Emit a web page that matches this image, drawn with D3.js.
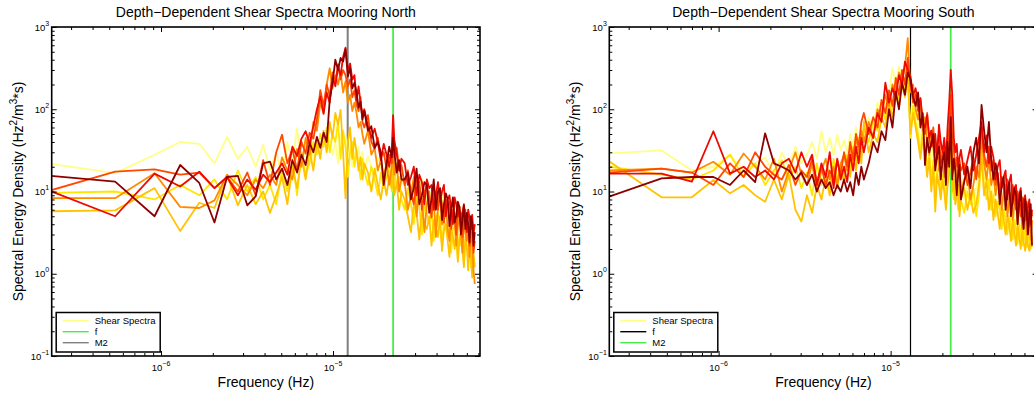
<!DOCTYPE html>
<html>
<head>
<meta charset="utf-8">
<script src="https://cdn.jsdelivr.net/npm/d3@7/dist/d3.min.js"></script>
<style>
html,body{margin:0;padding:0;background:#fff;}
svg{display:block;font-family:"Liberation Sans",Arial,Helvetica,sans-serif;}
</style>
</head>
<body>
<svg id="chart" width="1034" height="398"></svg>
<script>
// ---------------- DATA ----------------
const seriesColors = ['#ffff88', '#ffe600', '#ffc400', '#ff8c00', '#ff4800', '#ee0a00', '#8c0000'];

// Mooring North: frequency (micro-Hz)
const northFreqMicroHz = [
0.165,0.541,0.917,1.293,1.669,2.045,2.421,2.797,3.173,3.549,
3.925,4.301,4.677,5.053,5.429,5.805,6.181,6.557,6.933,7.309,
7.685,8.061,8.437,8.813,9.189,9.565,9.941,10.317,10.693,11.069,
11.445,11.821,12.197,12.573,12.949,13.325,13.701,14.077,14.453,14.829,
15.205,15.957,16.709,17.461,18.213,18.965,19.717,20.469,21.221,21.973,
22.349,22.725,23.477,24.229,24.981,26.10,27.23,28.37,29.49,30.61,
31.75,32.87,34.00,35.13,36.26,37.39,38.52,39.65,40.77,41.90,
43.03,44.16,45.29,46.41,47.54,48.67,49.80,50.93,52.05,53.18,
54.31,55.44,56.57,57.69,58.82,59.95,61.08,62.21,63.33,64.46,
65.59,66.72];

const northS1 = [
24,16.7,28,40,38,22,46,25,35,20, 37,18,30,15,40,22,59,20,35,45,
25,38,28,50,32,45,28,40,22,50, 35,45,25,38,20,30,
25,35,22,30,18,27,20,15,26,21,14,24,17,28,50,22,16,25,13,
12,16,9,13,8,11,14,6,9.5,7, 10,5,8,8.5,6,9,4,7,6,5,
7.5,3.5,6,4.5,5.5,3,6.5,3.5,4.8,3, 4.5,2.5,4,3,2,3.5,2.5];
const northS2 = [
9.5,10,8,12,9,14,8,18,10,15, 8,12,7,18,10,24,9,30,16,22,
40,28,50,35,60,30,50,40,70,25, 55,35,15,30,40,20,
32,22,14,25,18,12,20,14,9,17,11,15,20,10,42,18,12,15,8,
6,11,7,4,9,6.5,3,7,5.5,4, 6,2.5,4.8,5.5,3.5,2.2,4.5,3.6,2.8,4,
1.8,3.4,3.8,2.5,1.5,3,2.2,3.2,1.3,2.6, 2,1.7,2.4,1.2,2.2,1.5,1.3];
const northS3 = [
5.7,5.9,11,3.3,7.3,6.3,15.9,6.8,12,7, 10,5.5,9,15,7,20,11,26,14,32,
18,40,25,55,30,70,45,90,65,98, 30,8.3,40,60,25,45,
30,18,26,14,22,17,10,19,12,8,14,9,15,11,32,9,13,6,10,
8,5,3.2,7,5.5,2.6,6,4,3.5,5, 2.2,4.5,3.6,2.8,5,1.9,3.4,4,2.5,1.6,
3.5,2.8,2,3.8,1.4,2.6,3,1.9,1.2,2.8, 2.2,1.1,2.5,1.6,0.9,1.8,1.2];
const northS4 = [
8.3,8.3,16.7,6.5,6.3,7.8,16,12,9,14, 11,16,12,26,18,14,33,20,45,28,
70,55,120,90,200,315,180,260,200,280, 160,220,120,150,95,120,
90,60,70,50,38,55,28,34,18,24,15,22,12,20,50,16,22,10,14,
13,6,9,15,5,11,8,3.2,7,10, 6,8,2.8,6.5,9,4,5,7,3.5,2.5,
6,4.5,5.5,2.2,3.8,6,3,1.8,4.5,3.2, 2.5,4,1.6,3.2,2.4,1.1,0.75];
const northS5 = [
8.5,17.4,18.6,16,17,11,15,10,17,9, 24,12,30,49,22,33,18,40,29,52,
44,75,171,110,200,145,280,210,350,230, 300,260,190,230,140,170,
115,95,140,70,60,85,40,33,45,26,30,19,28,22,60,26,34,18,21,
12,18,10,7,15,13,6,10,12,8, 4.8,11,9,6,9.5,7,4.2,8,6.5,7.5,
3.5,6,5.2,3,7,4.8,5.5,2.8,4.5,6, 3.4,4,2.2,4.6,3.6,1.8,2.5];
const northS6 = [
13.2,5.0,16.5,11.5,17.4,11,15,9,14,10.5, 16,13,17,22,16,35,27,44,54,38,
62,100,142,88,160,120,240,190,330,260, 430,560,300,360,230,260,
130,190,120,85,100,62,45,58,40,24,38,28,20,32,85,42,28,18,25,
22,12,15,20,9,16,13,7,14,11, 12,6,9,13,7.5,10,12,5,8,9,
6,4,8.5,7,5,6.5,3.6,5.5,7,4.5, 3.2,6,4.8,3.5,5.2,3,4];
const northS7 = [
16.5,13.2,5.0,21,12.7,4.2,15,15.5,6.8,8.7, 22,23,14,19,12,24,17,28,21,39,
30,46,34,52,40,129,210,400,300,420, 380,540,250,320,180,210,
160,105,123,75,95,55,62,34,40,30,12,22,35,26,45,30,17,24,14,
14,17,8,11,19,7,9,13,12,5.5, 8,14,6,10,11,4.5,7,9.5,8,3.8,
6,8.5,4.2,5,7.5,6.5,3,4.5,6.8,3.5, 5.5,4,2.4,5,4.2,2.2,3.2];

// Mooring South: frequency (micro-Hz)
const southFreqMicroHz = [
0.233,0.466,0.699,0.932,1.165,1.398,1.631,1.864,2.097,2.330,
2.563,2.796,3.029,3.262,3.495,3.728,3.961,4.194,4.427,4.660,
4.893,5.126,5.359,5.592,5.825,6.058,6.291,6.524,6.757,6.990,
7.456,7.922,8.388,8.854,9.320,9.786,10.252,10.718,11.184,11.650,
12.116,12.582,13.048,13.514,13.980,14.446,14.912,15.378,15.844,16.310,
16.776,17.242,17.708,18.174,18.640,19.106,19.572,20.038,20.504,20.970,
21.436,21.902,22.368,22.834,23.300,23.766,24.232,24.698,25.164,25.630,
26.795,27.960,29.125,30.290,31.455,32.620,33.785,34.950,36.115,37.280,
38.445,39.610,40.775,41.940,43.105,44.270,45.435,46.600,47.765,48.930,
50.095,51.260,52.425,53.590,54.755,55.920,57.085,58.250,59.415,60.580,
61.745,62.910,64.075,65.240,66.405];

const southS1 = [
29,31.6,18,20,28,18,22,26,16,30, 20,35,22,28,40,25,54,30,45,28,
49,32,42,30,50,35,60,40,55,45, 80,60,120,90,200,150,315,200,330,250, 180,220,
60,130,90,70,40,65,45,30,40,22,35,18,24,30,15,22,18,10,16,25,45,
16,22,12,15,9,13,16,8,12,14, 7,11,16,35,14,20,10,13,8,11,
9,5.5,9,7,4.5,7.5,6,4,6.5,5, 3.5,5.5,4.2,3,5,3.6,2.8,4.3,3.2,2.6, 3.8,3];
const southS2 = [
20,16,14,18,28,15,22,12,18,24, 14,20,11,17,9,22,12,18,10,25,
14,20,16,28,19,35,24,45,30,60, 40,70,55,110,75,150,100,200,130,240, 170,300,
45,110,70,50,30,55,35,20,28,14,24,10,18,20,9,16,12,8,14,20,50,
12,8,15,10,6,11,8,5.5,10,7, 11,5,9,30,12,8,14,6,9,5,
7.5,6,3.5,6,4.5,3,5,3.8,2.6,4.5, 3.5,2.3,4,3,2.2,3.6,2.6,2.1,3.2,2.4, 2,2.9];
const southS3 = [
23,8.5,8.5,13.8,9.5,12,9,7.5,14,8, 16,6,4.3,9,5.5,12,8,15,9,18,
11,20,13,25,15,30,18,35,22,71, 30,50,40,80,60,120,80,150,110,200, 140,250,
50,90,60,40,25,45,30,15,25,10,20,5.7,16,12,8,14,10,6,12,16,40,
10,14,7,9,12,5,8,11,6,9, 5.5,7,12,25,9,14,6,10,4.5,8,
5.5,3.5,6.5,4.5,3,5,4,2.5,4.5,3.2, 2.2,3.8,2.8,2,3.4,2.4,1.9,3,2.2,1.9, 2.6,2.1];
const southS4 = [
18,19,17,23,16,29,20,14,25,10, 18,30,16,12,22,10,18,25,14,20,
12,22,28,18,35,24,45,30,55,40, 70,45,100,80,150,110,200,160,280,220, 330,730,
160,200,100,75,120,55,80,40,28,55,35,22,38,18,26,30,15,25,20,35,60,
25,18,24,12,16,20,10,14,18,8, 12,20,15,45,22,14,25,12,16,9,
14,11,6,10,12,5,8,9.5,4.5,7, 8,4,6.5,7,3.5,5.5,6,3,5,5.5, 2.6,4.5];
const southS5 = [
17,19,17,12,22,15,30,20,16,14, 21,12,18,15,25,13,20,12,18,14,
24,16,30,20,40,25,50,35,70,90, 50,80,60,130,90,170,110,240,150,300, 200,420,
200,120,150,95,130,70,50,90,42,35,60,30,38,50,22,28,40,18,35,60,150,
45,32,20,26,15,24,18,22,12,17, 26,14,30,60,28,20,35,18,24,12,
17,10,15,12,8,14,10,7,12,9, 6,10,8,5,8.5,7,4.5,7.5,6,3.8, 6,5];
const southS6 = [
16.5,16.5,13.2,54,16.5,20,15,18,14,22, 25,17,30,20,28,12,22,15,30,11,
25,14,20,13,28,18,35,22,45,30, 60,45,90,70,210,120,180,140,260,200, 380,300,
250,150,180,110,137,70,60,85,45,55,35,50,25,65,40,30,45,22,60,120,300,
150,45,30,38,20,26,32,16,24,35, 18,28,45,70,30,48,22,35,26,14,
20,24,11,15,18,8,13,16,7,11, 12,6,9,11,5,8,9,4.5,6.5,8, 4,6];
const southS7 = [
8.7,14.4,15,15,12,18,13,51,22,20, 18,14,17,12,16,10,14,11,13,9,
12,10,14,10,13,9,17,12,20,14, 22,40,30,54,42,100,60,163,100,210, 150,280,
230,140,110,160,60,90,21,45,30,38,50,18,28,35,14,24,30,12,40,20,80,
14,25,18,9,16,21,8,13,20,11, 30,45,22,113,55,30,70,25,14,22,
16,7,12,15,6,10,13,5,8,11, 9,4,7.5,10,5,3.5,8,6,3,5.5, 7,2.2];

// reference frequencies (Hz)
const fNorth = 1.217e-5;
const fSouth = 1.305e-5;
const freqM2 = 2.236e-5;

const panelTitles = ['Depth\u2212Dependent Shear Spectra Mooring North', 'Depth\u2212Dependent Shear Spectra Mooring South'];
const legendLabels = ['Shear Spectra', 'f', 'M2'];
const xAxisLabel = 'Frequency (Hz)';

// ---------------- LAYOUT ----------------
const xDomain = [2.314e-7, 7.155e-5];
const yDomain = [0.1, 1000];
const plotTop = 27, plotBottom = 356, plotWidth = 428.3;

const panels = [
  { left: 51.7, title: panelTitles[0], freq: northFreqMicroHz,
    series: [northS1, northS2, northS3, northS4, northS5, northS6, northS7],
    vlines: [{ f: fNorth, color: '#7f7f7f', width: 2 }, { f: freqM2, color: '#44ee44', width: 1.8 }],
    legendColors: [seriesColors[0], '#44ee44', '#7f7f7f'] },
  { left: 609.3, title: panelTitles[1], freq: southFreqMicroHz,
    series: [southS1, southS2, southS3, southS4, southS5, southS6, southS7],
    vlines: [{ f: fSouth, color: '#000000', width: 1.2 }, { f: freqM2, color: '#44ee44', width: 1.8 }],
    legendColors: [seriesColors[0], '#000000', '#44ee44'] }
];

const svg = d3.select('#chart');
const defs = svg.append('defs');
const y = d3.scaleLog().domain(yDomain).range([plotBottom, plotTop]);
const isPow10 = v => Math.abs(Math.log10(v) - Math.round(Math.log10(v))) < 1e-9;
const expLabel = v => {
  const e = Math.round(Math.log10(v));
  return e < 0 ? '\u2212' + Math.abs(e) : String(e);
};

panels.forEach((p, pi) => {
  const x = d3.scaleLog().domain(xDomain).range([p.left, p.left + plotWidth]);
  const g = svg.append('g');
  const clipId = 'clip' + pi;
  defs.append('clipPath').attr('id', clipId).append('rect')
    .attr('x', p.left).attr('y', plotTop).attr('width', plotWidth).attr('height', plotBottom - plotTop);
  const plot = g.append('g').attr('clip-path', `url(#${clipId})`);

  // reference lines
  p.vlines.forEach(v => {
    plot.append('line').attr('x1', x(v.f)).attr('x2', x(v.f))
      .attr('y1', plotTop).attr('y2', plotBottom)
      .attr('stroke', v.color).attr('stroke-width', v.width);
  });

  // spectra
  const line = d3.line().x((d, i) => x(p.freq[i] * 1e-6)).y(d => y(d));
  p.series.forEach((s, si) => {
    plot.append('path').attr('d', line(s)).attr('fill', 'none')
      .attr('stroke', seriesColors[si]).attr('stroke-width', 1.8)
      .attr('stroke-linejoin', 'round');
  });

  // ticks
  const xt = x.ticks(), yt = y.ticks();
  const xMaj = xt.filter(isPow10), xMin = xt.filter(v => !isPow10(v));
  const yMaj = yt.filter(isPow10), yMin = yt.filter(v => !isPow10(v));
  const axes = [
    [d3.axisBottom(x), `translate(0,${plotBottom})`, xMaj, xMin],
    [d3.axisTop(x), `translate(0,${plotTop})`, xMaj, xMin],
    [d3.axisLeft(y), `translate(${p.left},0)`, yMaj, yMin],
    [d3.axisRight(y), `translate(${p.left + plotWidth},0)`, yMaj, yMin]
  ];
  axes.forEach(([ax, tr, maj, mn]) => {
    g.append('g').attr('transform', tr)
      .call(ax.tickValues(maj).tickSize(-5).tickFormat(() => ''))
      .call(a => { a.select('.domain').remove(); a.selectAll('line').attr('stroke', '#000').attr('stroke-width', 1); });
    g.append('g').attr('transform', tr)
      .call(ax.tickValues(mn).tickSize(-3).tickFormat(() => ''))
      .call(a => { a.select('.domain').remove(); a.selectAll('line').attr('stroke', '#000').attr('stroke-width', 1); });
  });

  // box
  g.append('rect').attr('x', p.left).attr('y', plotTop).attr('width', plotWidth).attr('height', plotBottom - plotTop)
    .attr('fill', 'none').attr('stroke', '#000').attr('stroke-width', 1.6);

  // tick labels
  xMaj.forEach(v => {
    const t = g.append('text').attr('x', x(v)).attr('y', 371).attr('text-anchor', 'middle')
      .attr('font-size', 9.5).attr('fill', '#000');
    t.append('tspan').text('10');
    t.append('tspan').attr('font-size', 7).attr('dy', -5.5).text(expLabel(v));
  });
  yMaj.forEach(v => {
    const t = g.append('text').attr('x', p.left - 2.5).attr('y', y(v) + 3.5).attr('text-anchor', 'end')
      .attr('font-size', 9.5).attr('fill', '#000');
    t.append('tspan').text('10');
    t.append('tspan').attr('font-size', 7).attr('dy', -5).text(expLabel(v));
  });

  // title
  g.append('text').attr('x', p.left + plotWidth / 2).attr('y', 16.5).attr('text-anchor', 'middle')
    .attr('font-size', 14).attr('fill', '#000').text(p.title);

  // x label
  g.append('text').attr('x', p.left + plotWidth / 2).attr('y', 386.5).attr('text-anchor', 'middle')
    .attr('font-size', 14).attr('fill', '#000').text(xAxisLabel);

  // y label
  const yl = g.append('text')
    .attr('transform', `translate(${p.left - 29},${(plotTop + plotBottom) / 2}) rotate(-90)`)
    .attr('text-anchor', 'middle').attr('font-size', 14).attr('fill', '#000');
  yl.append('tspan').text('Spectral Energy Density (Hz');
  yl.append('tspan').attr('font-size', 10).attr('dy', -6).text('2');
  yl.append('tspan').attr('dy', 6).text('/m');
  yl.append('tspan').attr('font-size', 10).attr('dy', -6).text('3');
  yl.append('tspan').attr('dy', 6).text('*s)');

  // legend
  const lg = g.append('g');
  lg.append('rect').attr('x', p.left + 4.5).attr('y', 312.5).attr('width', 104).attr('height', 39.5)
    .attr('fill', '#fff').attr('stroke', '#000').attr('stroke-width', 1.5);
  legendLabels.forEach((lab, i) => {
    const cy = 320.7 + i * 11;
    lg.append('line').attr('x1', p.left + 11).attr('x2', p.left + 37).attr('y1', cy).attr('y2', cy)
      .attr('stroke', p.legendColors[i]).attr('stroke-width', i === 0 ? 1.8 : 1.4);
    lg.append('text').attr('x', p.left + 43).attr('y', cy + 3.5).attr('font-size', 9.5).attr('fill', '#000').text(lab);
  });
});
</script>
</body>
</html>
